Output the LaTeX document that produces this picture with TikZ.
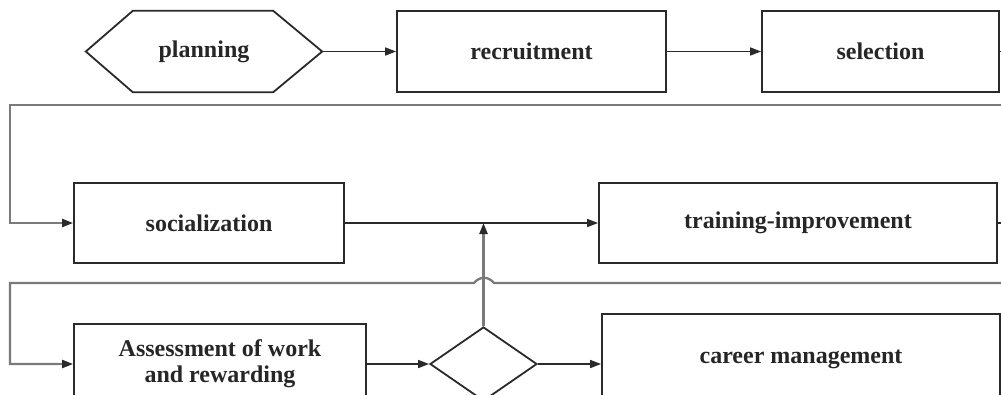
\documentclass[tikz,border=0pt]{standalone}
\usepackage{fontspec}
\setmainfont{Liberation Serif}
\usetikzlibrary{arrows.meta,shapes.geometric}
\definecolor{boxc}{HTML}{2A2A2A}
\definecolor{loopc}{HTML}{7A7A7A}
\begin{document}
\begin{tikzpicture}[x=1pt,y=-1pt,
  lbl/.style={font=\fontsize{24}{26}\selectfont\bfseries, text=black!85, inner sep=0pt},
  box/.style={lbl, draw=boxc, line width=1.8pt, rectangle},
  conn/.style={draw=boxc, line width=1.6pt, -{Triangle[length=11pt,width=8pt]}},
  loopline/.style={draw=loopc, line width=2.3pt},
  looparrow/.style={loopline, -{Triangle[length=11pt,width=8pt,color=boxc]}}]
\clip (0,0) rectangle (1001,394);
\useasboundingbox (0,0) rectangle (1001,394);
\fill[white] (0,0) rectangle (1001,394);
% nodes
\node[lbl, minimum width=236pt, minimum height=81pt] (plan) at (204,51.5) {planning};
\draw[boxc, line width=1.8pt] (plan.west) -- ([xshift=47pt]plan.north west) -- ([xshift=-49pt]plan.north east) -- (plan.east) -- ([xshift=-49pt]plan.south east) -- ([xshift=47pt]plan.south west) -- cycle;
\node[box, minimum width=269pt, minimum height=81pt] (rec) at (531.5,51.5) {recruitment};
\node[box, minimum width=237pt, minimum height=81pt] (sel) at (880.5,51.5) {selection};
\node[box, minimum width=270pt, minimum height=80pt] (soc) at (209,223) {socialization};
\node[box, minimum width=398pt, minimum height=80pt] (train) at (798,223) {training-improvement};
\node[box, minimum width=292pt, minimum height=80pt, align=center] (assess) at (220,364) {Assessment of work\\and rewarding};
\node[draw=boxc, line width=1.8pt, diamond, minimum width=107pt, minimum height=74pt, inner sep=0pt] (dia) at (483.5,364) {};
\node[box, minimum width=398pt, minimum height=100pt] (career) at (801,364) {\raisebox{15pt}{career management}};
% free ends
\coordinate (s1) at (1006,51.5);
\coordinate (s2) at (1006,223);
\coordinate (r1) at (1006,105);
\coordinate (l1) at (10,105);
\coordinate (r2) at (1006,283);
\coordinate (l2) at (10,283);
\coordinate (hr) at (494,283);
\coordinate (hl) at (474,283);
% connectors
\draw[conn] (plan.east) -- (rec.west);
\draw[conn] (rec.east) -- (sel.west);
\draw[boxc, line width=1.6pt] (sel.east) -- (s1);
\draw[boxc, line width=1.6pt] (train.east) -- (s2);
\draw[looparrow] (r1) -- (l1) |- (soc.west);
\draw[conn] (soc.east) -- (train.west);
\draw[looparrow] (r2) -- (hr) .. controls (488,276) and (480,276) .. (hl) -- (l2) |- (assess.west);
\draw[looparrow] (dia.north) -- (dia.north |- soc.east);
\draw[conn] (assess.east) -- (assess.east -| dia.west);
\draw[conn] (dia.east) -- (dia.east -| career.west);
\end{tikzpicture}
\end{document}
